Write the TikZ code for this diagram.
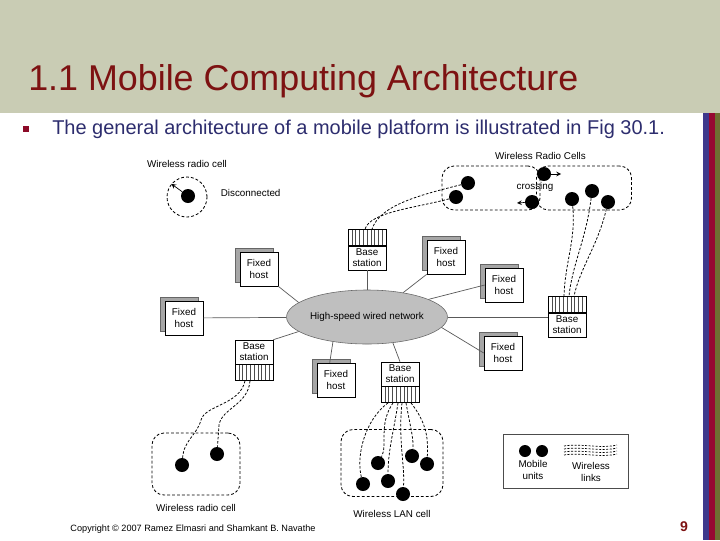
\documentclass[tikz,border=0pt]{standalone}
\usepackage{fontspec}
\setmainfont{Liberation Sans}
\usetikzlibrary{positioning,shapes.geometric,shadows,calc}
\definecolor{bandgrey}{RGB}{201,204,180}
\definecolor{titlered}{RGB}{125,18,18}
\definecolor{textblue}{RGB}{45,45,110}
\definecolor{bulletred}{RGB}{140,10,40}
\definecolor{stripeblue}{RGB}{62,56,140}
\definecolor{stripered}{RGB}{150,8,50}
\definecolor{stripeolive}{RGB}{110,110,50}
\begin{document}
\begin{tikzpicture}
	[x=0.025cm, y=-0.025cm,
	every node/.style={font=\fontsize{7}{8}\selectfont, align=center},
	host/.style={draw, fill=white, minimum width=0.95cm, minimum height=0.85cm, inner sep=1pt,
		general shadow={shadow xshift=-0.12cm, shadow yshift=0.1cm, fill=black!35, draw=black!60}},
	station/.style={draw, fill=white, minimum width=0.95cm, minimum height=0.6cm, inner sep=1pt},
	antenna/.style={draw, minimum width=0.95cm, minimum height=0.4cm, inner sep=0pt,
		path picture={\foreach \k in {1,...,9}
			\draw[black!70] ($(path picture bounding box.south west)!\k/10!(path picture bounding box.south east)$) -- ++(0,0.5cm);}},
	mobile/.style={circle, fill=black, inner sep=0pt, minimum size=0.35cm},
	cell/.style={draw, dash pattern=on 2pt off 1.5pt, rounded corners=0.3cm, line width=0.6pt},
	link/.style={dash pattern=on 1.8pt off 1.2pt, line width=0.55pt},
	wire/.style={black!65, line width=0.5pt}]
	\useasboundingbox (0,0) rectangle (720,540);
	\fill[bandgrey] (0,0) rectangle (720,113);
	\fill[stripeblue] (703,113) rectangle (709,540);
	\fill[stripered] (709,113) rectangle (715,540);
	\fill[stripeolive] (715,113) rectangle (720,540);
	\node[anchor=base west, inner sep=0pt, text=titlered, font=\fontsize{25.5}{30}\selectfont] (title) at (28,90) {1.1 Mobile Computing Architecture};
	\node[fill=bulletred, inner sep=0pt, minimum size=0.15cm] (bullet) at (26,129) {};
	\node[anchor=base west, inner sep=0pt, text=textblue, font=\fontsize{14.2}{17}\selectfont] (intro) at (52,134) {The general architecture of a mobile platform is illustrated in Fig 30.1.};

	\node[ellipse, draw=black!60, fill=black!25, minimum width=3.95cm, minimum height=1.35cm, inner sep=0pt] (net) at (367,317) {High-speed wired network};
	\node[host] (hostA) at (259,269) {Fixed\\host};
	\node[host] (hostB) at (184,318) {Fixed\\host};
	\node[host] (hostC) at (336,380) {Fixed\\host};
	\node[host] (hostD) at (446,257) {Fixed\\host};
	\node[host] (hostE) at (504,285) {Fixed\\host};
	\node[host] (hostF) at (503,353) {Fixed\\host};
	\node[station] (bs1) at (367,258) {Base\\station};
	\node[antenna, above=0pt of bs1] (bs1a) {};
	\node[station] (bs2) at (567,325) {Base\\station};
	\node[antenna, above=0pt of bs2] (bs2a) {};
	\node[station] (bs3) at (254,352) {Base\\station};
	\node[antenna, below=0pt of bs3] (bs3a) {};
	\node[station] (bs4) at (400,374) {Base\\station};
	\node[antenna, below=0pt of bs4] (bs4a) {};

	\draw[wire] (bs1) -- (net);
	\draw[wire] (hostA.south east) -- (net.168);
	\draw[wire] (hostB) -- (net);
	\draw[wire] (bs3.north east) -- (net.192);
	\draw[wire] (net.216) -- (hostC.110);
	\draw[wire] (net.-45) -- (bs4.north);
	\draw[wire] (hostD.south west) -- (net.34);
	\draw[wire] (net.16) -- (hostE.west);
	\draw[wire] (net.-8) -- (hostF.west);
	\draw[wire] (net.east) -- (net.east -| bs2a.west);

	\node[draw, circle, dash pattern=on 2pt off 1.5pt, line width=0.6pt, minimum size=1cm] (radio) at (187,197) {};
	\node[mobile] (m0) at (188,196) {};
	\draw[-stealth, line width=0.5pt] (m0) -- (radio.140);
	\node[above=3pt of radio] (radioLbl) {Wireless radio cell};
	\node[right=6pt of radio.east, yshift=3pt] (disc) {Disconnected};

	\node[cell, minimum width=2.45cm, minimum height=1.1cm] (cellL) at (491,188) {};
	\node[cell, minimum width=2.375cm, minimum height=1.1cm] (cellR) at (584,188) {};
	\node[above=1pt of cellL.north east] (cellsLbl) {Wireless Radio Cells};
	\node[mobile] (m1) at (468,183) {};
	\node[mobile] (m2) at (456,197) {};
	\node[mobile] (m3) at (544,174) {};
	\node[mobile] (m4) at (532,202) {};
	\node[mobile] (m5) at (572,199) {};
	\node[mobile] (m6) at (592,191) {};
	\node[mobile] (m7) at (608,202) {};
	\node (crossing) at (535,187) {crossing};
	\coordinate (m3to) at (561,174);
	\coordinate (m4to) at (517,203);
	\draw[-stealth, line width=0.5pt] (m3) -- (m3to);
	\draw[-stealth, line width=0.5pt] (m4) -- (m4to);
	\draw[link] (m1) .. controls (420,195) and (380,205) .. ($(bs1a.north)+(5,0)$);
	\draw[link] (m2) .. controls (415,208) and (370,212) .. ($(bs1a.north)+(-2,0)$);
	\draw[link] (m5) .. controls (576,240) and (565,262) .. ($(bs2a.north)+(-3,0)$);
	\draw[link] (m6) .. controls (586,240) and (572,265) .. ($(bs2a.north)+(2,0)$);
	\draw[link] (m7) .. controls (598,245) and (580,268) .. ($(bs2a.north)+(7,0)$);

	\node[cell, minimum width=2.2cm, minimum height=1.55cm] (cellC) at (196,464) {};
	\node[mobile] (e1) at (182,465) {};
	\node[mobile] (e2) at (217,454) {};
	\node[below=2.5pt of cellC] (cellCLbl) {Wireless radio cell};
	\draw[link] ($(bs3a.south)+(-9,0)$) .. controls (240,405) and (205,405) .. (201,420) .. controls (197,435) and (184,440) .. (e1);
	\draw[link] ($(bs3a.south)+(-4,0)$) .. controls (248,405) and (222,408) .. (219,425) -- (e2);

	\node[cell, minimum width=2.55cm, minimum height=1.675cm] (lan) at (392,463) {};
	\node[below=6pt of lan] (lanLbl) {Wireless LAN cell};
	\node[mobile] (f1) at (378,463) {};
	\node[mobile] (f2) at (412,456) {};
	\node[mobile] (f3) at (427,464) {};
	\node[mobile] (f4) at (363,484) {};
	\node[mobile] (f5) at (388,481) {};
	\node[mobile] (f6) at (403,494) {};
	\draw[link] ($(bs4a.south)+(-12,0)$) .. controls (365,420) and (356,455) .. (f4);
	\draw[link] ($(bs4a.south)+(-7,0)$) .. controls (378,425) and (388,445) .. (f1);
	\draw[link] ($(bs4a.south)+(-2,0)$) .. controls (394,430) and (388,450) .. (f5);
	\draw[link] ($(bs4a.south)+(2,0)$) .. controls (398,440) and (405,465) .. (f6);
	\draw[link] ($(bs4a.south)+(6,0)$) .. controls (410,425) and (414,440) .. (f2);
	\draw[link] ($(bs4a.south)+(11,0)$) .. controls (428,425) and (428,440) .. (f3);

	\node[draw=black!70, line width=0.5pt, minimum width=3.125cm, minimum height=1.35cm] (legend) at (565.5,461) {};
	\node[mobile, minimum size=0.3cm] (u1) at (525,451) {};
	\node[mobile, minimum size=0.3cm] (u2) at (542,451) {};
	\node (unitsLbl) at (533,470) {Mobile\\units};
	\node (linksLbl) at (591,472) {Wireless\\links};
	\foreach \k in {0,...,3}
		\draw[link, line width=0.5pt, dash pattern=on 1.5pt off 1pt] (564,446+3*\k) .. controls (580,443+3*\k) and (600,449+3*\k) .. (617,445+3*\k);

	\node[font=\fontsize{6.5}{8}\selectfont] (copy) at (193,529) {Copyright © 2007 Ramez Elmasri and Shamkant B. Navathe};
	\node[font=\bfseries\fontsize{10}{12}\selectfont, text=titlered] (page) at (684,527) {9};
\end{tikzpicture}
\end{document}
